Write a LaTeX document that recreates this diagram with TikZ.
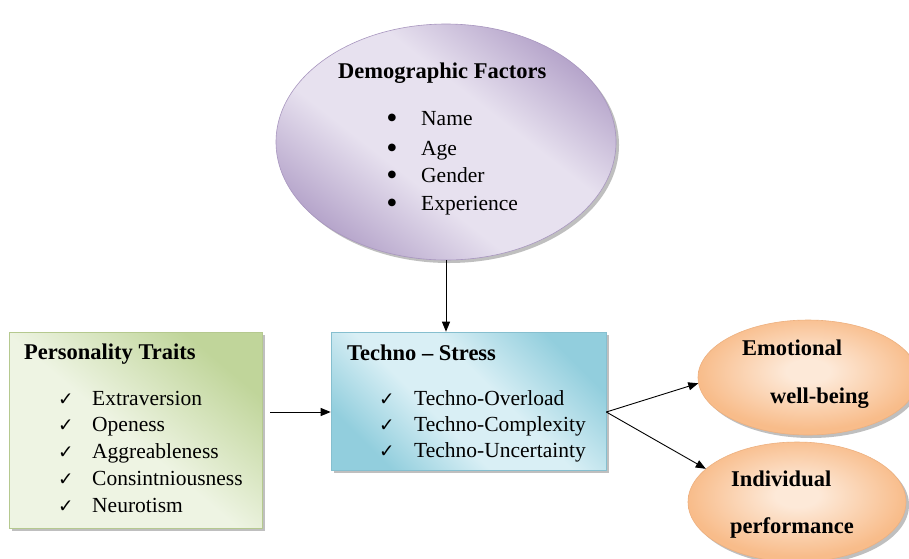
\documentclass[tikz,border=0pt]{standalone}
\usepackage{fontspec}
\setmainfont{Liberation Serif}
\newfontfamily\symf{DejaVu Sans}
\usetikzlibrary{shapes.geometric,shadows,arrows.meta}
\definecolor{purpIn}{HTML}{E7E1EF}
\definecolor{purpOut}{HTML}{B5A4CA}
\definecolor{purpLine}{HTML}{A896BF}
\definecolor{grnDark}{HTML}{C0D59A}
\definecolor{grnLight}{HTML}{EEF4E3}
\definecolor{grnLine}{HTML}{B5C98F}
\definecolor{bluOut}{HTML}{92CEDD}
\definecolor{bluIn}{HTML}{D9EFF5}
\definecolor{bluLine}{HTML}{86BFCF}
\definecolor{orgOut}{HTML}{F8BC8A}
\definecolor{orgIn}{HTML}{FDE9D8}
\definecolor{orgLine}{HTML}{EDB07F}
\pgfdeclareverticalshading{purpband}{100bp}{color(0bp)=(purpOut); color(25bp)=(purpOut); color(41bp)=(purpIn); color(59bp)=(purpIn); color(75bp)=(purpOut); color(100bp)=(purpOut)}
\pgfdeclareverticalshading{bluband}{100bp}{color(0bp)=(bluOut); color(25bp)=(bluOut); color(42bp)=(bluIn); color(56bp)=(bluIn); color(75bp)=(bluOut); color(100bp)=(bluOut)}
\pgfdeclareverticalshading{grnband}{100bp}{color(0bp)=(grnLight); color(48bp)=(grnLight); color(74bp)=(grnDark); color(100bp)=(grnDark)}
\pgfdeclareradialshading{orgrad}{\pgfpoint{0bp}{3bp}}{color(0bp)=(orgIn); color(5bp)=(orgIn); color(25bp)=(orgOut); color(100bp)=(orgOut)}
\begin{document}
\begin{tikzpicture}[x=1pt,y=-1pt,
  arr/.style={draw=black, line width=0.9pt, -{Triangle[length=10pt,width=8pt]}},
  txt/.style={anchor=base west, inner sep=0pt, font=\fontsize{21.5}{26}\selectfont},
  ttl/.style={anchor=base west, inner sep=0pt, font=\fontsize{22.5}{26}\selectfont\bfseries},
  chk/.style={anchor=base west, inner sep=0pt, font=\symf\fontsize{18.5}{20}\selectfont},
  bul/.style={anchor=center, inner sep=0pt, font=\symf\fontsize{10}{12}\selectfont},
  shd/.style={drop shadow={shadow xshift=3pt, shadow yshift=-3pt, fill=black!45, opacity=0.55}},
  demoshape/.style={ellipse, draw=purpLine, line width=0.6pt, shading=purpband, shading angle=-38, shd},
  pboxshape/.style={rectangle, draw=grnLine, line width=0.6pt, shading=grnband, shading angle=-40, shd},
  sboxshape/.style={rectangle, draw=bluLine, line width=0.6pt, shading=bluband, shading angle=-45, shd},
  oshape/.style={ellipse, draw=orgLine, line width=0.6pt, shading=orgrad, shd}
]
\useasboundingbox (0,0) rectangle (909,558);
\clip (0,0) rectangle (909,558);
\fill[white] (0,0) rectangle (909,558);

% Demographic factors
\node[demoshape, minimum width=340pt, minimum height=236pt] (demo) at (446,142) {};
\node[ttl] (dtitle) at (338,78) {Demographic Factors};
\node[bul] (b1) at (392,118) {●};
\node[txt] (d1) at (421,125) {Name};
\node[bul] (b2) at (392,148) {●};
\node[txt] (d2) at (421,155) {Age};
\node[bul] (b3) at (392,175) {●};
\node[txt] (d3) at (421,182) {Gender};
\node[bul] (b4) at (392,203) {●};
\node[txt] (d4) at (421,210) {Experience};

% Personality traits
\node[pboxshape, minimum width=253pt, minimum height=196pt] (pers) at (135.5,430) {};
\node[ttl] (ptitle) at (24,359) {Personality Traits};
\node[chk] (pc1) at (58,405) {✓};
\node[txt] (p1) at (92,405) {Extraversion};
\node[chk] (pc2) at (58,431) {✓};
\node[txt] (p2) at (92,431) {Openess};
\node[chk] (pc3) at (58,458) {✓};
\node[txt] (p3) at (92,458) {Aggreableness};
\node[chk] (pc4) at (58,485) {✓};
\node[txt] (p4) at (92,485) {Consintniousness};
\node[chk] (pc5) at (58,512) {✓};
\node[txt] (p5) at (92,512) {Neurotism};

% Techno-stress
\node[sboxshape, minimum width=275pt, minimum height=138pt] (stress) at (468.5,401) {};
\node[ttl] (stitle) at (347,360) {Techno – Stress};
\node[chk] (sc1) at (379,405) {✓};
\node[txt] (s1) at (414,405) {Techno-Overload};
\node[chk] (sc2) at (379,431) {✓};
\node[txt] (s2) at (414,431) {Techno-Complexity};
\node[chk] (sc3) at (379,457) {✓};
\node[txt] (s3) at (414,457) {Techno-Uncertainty};

% Outcomes
\node[oshape, minimum width=220pt, minimum height=115pt] (emo) at (808,377.5) {};
\node[ttl] (e1) at (742,355) {Emotional};
\node[ttl] (e2) at (770,403) {well-being};
\node[oshape, minimum width=218pt, minimum height=120pt] (ind) at (797,502) {};
\node[ttl] (i1) at (731,486) {Individual};
\node[ttl] (i2) at (730,533) {performance};

% Connectors
\draw[arr] (demo.south) -- (demo.south |- stress.north);
\coordinate (a1) at (270,412);
\draw[arr] (a1) -- (a1 -| stress.west);
\coordinate (sp) at (stress.east |- a1);
\draw[arr] (sp) -- (emo.183);
\draw[arr] (sp) -- (ind.160);
\end{tikzpicture}
\end{document}
